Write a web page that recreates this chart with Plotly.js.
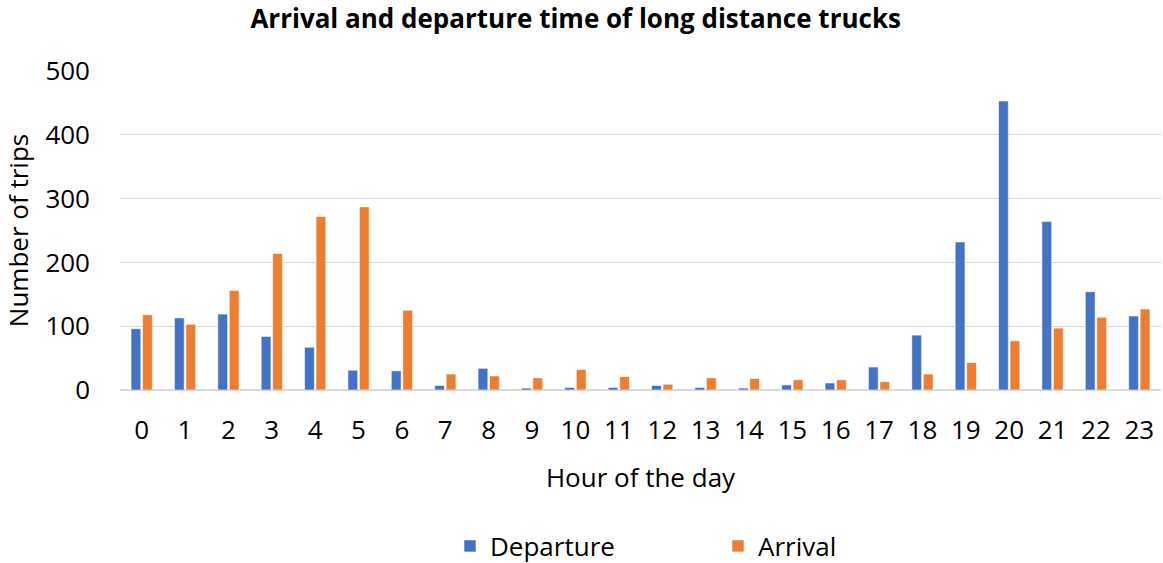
<!DOCTYPE html>
<html>
<head>
<meta charset="utf-8">
<script src="https://cdn.plot.ly/plotly-3.0.1.min.js"></script>
<style>html,body{margin:0;padding:0;background:#fff;}#chart{width:1163px;height:563px;}</style>
</head>
<body>
<div id="chart"></div>
<script>
const hours = ["0","1","2","3","4","5","6","7","8","9","10","11","12","13","14","15","16","17","18","19","20","21","22","23"];
const departure = [96,113,119,84,67,31,30,7,34,3,4,4,7,4,3,8,11,36,86,232,453,264,154,116];
const arrival = [118,103,156,214,272,287,125,25,22,19,32,21,9,19,18,16,16,13,25,43,77,97,114,127];

const font = "'Open Sans', 'Noto Sans', sans-serif";
const fs = 26;

const traces = [
  {type:'bar', name:'Departure', x:hours, y:departure,
   marker:{color:'#4472C4', line:{color:'rgba(255,255,255,0.7)', width:0.8}}},
  {type:'bar', name:'Arrival', x:hours, y:arrival,
   marker:{color:'#ED7D31', line:{color:'rgba(255,255,255,0.7)', width:0.8}}}
];

const layout = {
  width:1163, height:563,
  paper_bgcolor:'#fff', plot_bgcolor:'#fff',
  margin:{l:120, r:2, t:71, b:173, autoexpand:false},
  font:{family:font, color:'#000', size:fs},
  title:{text:'<b>Arrival and departure time of long distance trucks</b>',
         font:{family:font, size:26, color:'#000'},
         x:0.495, xref:'container', xanchor:'center',
         y:1-19/563, yref:'container', yanchor:'middle'},
  barmode:'group', bargap:0.47, bargroupgap:0.15,
  xaxis:{type:'category', range:[-0.5,23.5], showgrid:false, zeroline:false,
         showline:false, ticks:'', ticklabelstandoff:22, automargin:false,
         tickfont:{size:fs, family:font},
         title:{text:'Hour of the day', font:{size:fs, family:font}, standoff:22}},
  yaxis:{range:[0,500], dtick:100, showgrid:true, gridcolor:'#d9d9d9', gridwidth:1.3,
         zeroline:true, zerolinecolor:'#d9d9d9', zerolinewidth:1.3,
         showline:false, ticks:'', ticklabelstandoff:29, automargin:false,
         tickfont:{size:fs, family:font},
         title:{text:'Number of trips', font:{size:fs, family:font}, standoff:20}},
  showlegend:true,
  legend:{orientation:'h', x:(450-120)/1041, xanchor:'left', y:(390-546)/319, yanchor:'middle',
          entrywidth:223, entrywidthmode:'pixels',
          font:{size:fs, family:font}}
};

Plotly.newPlot('chart', traces, layout, {displayModeBar:false, staticPlot:true});
</script>
</body>
</html>
